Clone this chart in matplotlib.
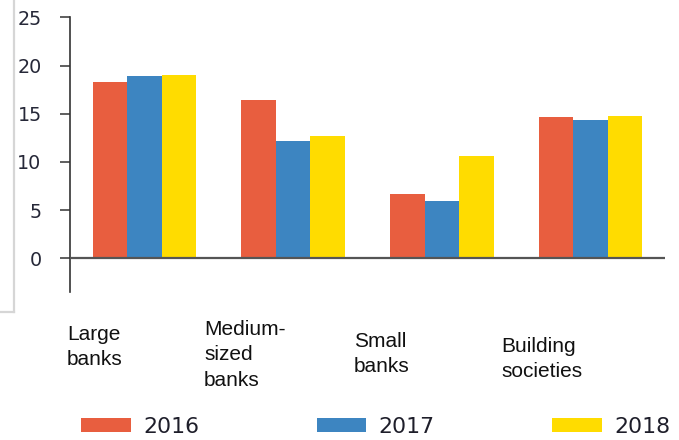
import numpy as np
import matplotlib
matplotlib.use("Agg")
import matplotlib.pyplot as plt
from matplotlib.lines import Line2D

# data
categories = ["Large\nbanks", "Medium-\nsized\nbanks", "Small\nbanks", "Building\nsocieties"]
years = ["2016", "2017", "2018"]
v2016 = [18.3, 16.4, 6.7, 14.7]
v2017 = [18.9, 12.2, 5.9, 14.4]
v2018 = [19.0, 12.7, 10.6, 14.8]
yticks = [0, 5, 10, 15, 20, 25]

colors = ["#E85E3F", "#3D85C1", "#FFDC00"]

fig = plt.figure(figsize=(6.79, 4.40), dpi=100)
ax = fig.add_axes([70 / 679, 1 - 292 / 440, 595 / 679, (292 - 17.5) / 440])

x = np.arange(len(categories))
w = 0.2317
for i, (vals, c, yr) in enumerate(zip([v2016, v2017, v2018], colors, years)):
    ax.bar(x + (i - 1) * w, vals, width=w, color=c, label=yr, zorder=2)

ax.axhline(0, color="#555555", lw=1.6, zorder=3)

ax.set_xlim(-0.5, 3.5)
ax.set_ylim(-3.5, 25)
ax.set_yticks(yticks)
ax.set_xticks([])
for s in ["top", "right", "bottom"]:
    ax.spines[s].set_visible(False)
ax.spines["left"].set_color("#333333")
ax.spines["left"].set_linewidth(1.2)
ax.tick_params(axis="y", length=7, width=1.1, color="#333333", pad=13.5,
               labelsize=13.8, labelcolor="#262838")
for lab in ax.get_yticklabels():
    lab.set_family("DejaVu Sans")

# category labels under the plot (top of first line, in pixels)
label_pos = [(67, 325), (204, 320), (354, 332), (501, 337)]
for txt, (px, py) in zip(categories, label_pos):
    fig.text(px / 679, 1 - py / 440, txt, ha="left", va="top",
             fontsize=15, family="Liberation Sans", color="#111111",
             linespacing=1.42)

# legend
fig.legend(loc="center left", bbox_to_anchor=(81 / 679, 1 - 427 / 440),
           ncol=3, frameon=False, borderpad=0, borderaxespad=0,
           handlelength=2.27, handleheight=0.6, handletextpad=0.55,
           columnspacing=5.36, prop={"family": "DejaVu Sans", "size": 15.8},
           labelcolor="#1e1e2a")

# light frame at left edge
fig.add_artist(Line2D([13.5 / 679, 13.5 / 679], [1.0, 1 - 311.5 / 440],
                      transform=fig.transFigure, color="#d6d6d6", lw=1.6))
fig.add_artist(Line2D([0, 13.5 / 679], [1 - 311.5 / 440, 1 - 311.5 / 440],
                      transform=fig.transFigure, color="#d6d6d6", lw=1.6))

plt.savefig("out.png", dpi=100)
